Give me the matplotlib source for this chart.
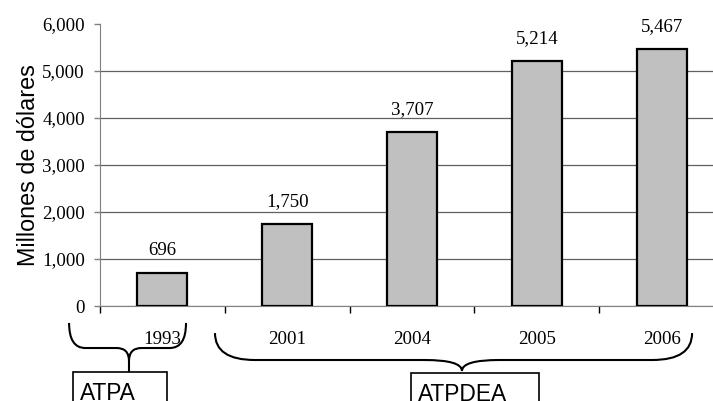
import numpy as np
import matplotlib.pyplot as plt
from matplotlib.path import Path
from matplotlib.patches import PathPatch, Rectangle

years = ['1993', '2001', '2004', '2005', '2006']
valores = [696, 1750, 3707, 5214, 5467]
y_ticks = [0, 1000, 2000, 3000, 4000, 5000, 6000]
programas = ['ATPA', 'ATPDEA']

serif = 'Liberation Serif'
sans = 'Liberation Sans'

fig = plt.figure(figsize=(7.13, 4.01), dpi=100)
ax = fig.add_axes([0.1403, 0.2369, 0.8752, 0.7032])

x = np.arange(len(years))
bars = ax.bar(x, valores, width=0.4, color='#c0c0c0', edgecolor='black',
              linewidth=1.6, zorder=3)
ax.bar_label(bars, labels=[f'{v:,}' for v in valores], padding=10,
             fontsize=13.6, family=serif)

ax.set_xlim(-0.5, len(years) - 0.5)
ax.set_ylim(0, 6000)
ax.set_yticks(y_ticks)
ax.set_yticklabels([f'{v:,}' for v in y_ticks], fontsize=13.6, family=serif)
ax.set_xticks(x)
ax.set_xticklabels(years, fontsize=13.6, family=serif)
ax.set_xticks(np.arange(-0.5, len(years)), minor=True)
ax.tick_params(axis='x', which='major', length=0, pad=18)
ax.tick_params(axis='x', which='minor', length=5, color='black', width=1)
ax.tick_params(axis='y', length=4, color='#808080', width=1, pad=7)

ax.grid(axis='y', color='#606060', linewidth=0.9, zorder=0)
ax.get_ygridlines()[-1].set_visible(False)
ax.set_axisbelow(True)

for side in ['top', 'right']:
    ax.spines[side].set_visible(False)
for side in ['left', 'bottom']:
    ax.spines[side].set_color('#808080')

ax.set_ylabel('Millones de dólares', fontsize=16.8, family=sans)
ax.yaxis.set_label_coords(-0.097, 0.5)

# llaves bajo los años de cada programa (x en datos, y en fracción del eje)
trans = ax.get_xaxis_transform()


def llave(x0, x1, xc, y_fin, y_plano, y_punta, r_fin, r_punta, y_tallo=None):
    verts = [(x0, y_fin), (x0, y_plano), (x0 + r_fin, y_plano),
             (xc - r_punta, y_plano), (xc, y_plano), (xc, y_punta),
             (xc, y_plano), (xc + r_punta, y_plano),
             (x1 - r_fin, y_plano), (x1, y_plano), (x1, y_fin)]
    codes = [Path.MOVETO, Path.CURVE3, Path.CURVE3, Path.LINETO,
             Path.CURVE3, Path.CURVE3, Path.CURVE3, Path.CURVE3,
             Path.LINETO, Path.CURVE3, Path.CURVE3]
    if y_tallo is not None:
        verts += [(xc, y_punta), (xc, y_tallo)]
        codes += [Path.MOVETO, Path.LINETO]
    ax.add_patch(PathPatch(Path(verts, codes), fill=False, edgecolor='black',
                           linewidth=1.5, transform=trans, clip_on=False))


llave(-0.748, 0.189, -0.268, -0.060, -0.149, -0.195, 0.13, 0.10, y_tallo=-0.234)
llave(0.421, 4.244, 2.40, -0.096, -0.1915, -0.2305, 0.32, 0.30)

# recuadros con el nombre de cada programa
cajas = [(-0.716, 0.037, -0.234), (1.992, 3.018, -0.2376)]
for nombre, (xa, xb, y_top) in zip(programas, cajas):
    ax.add_patch(Rectangle((xa, y_top - 0.3), xb - xa, 0.3, fill=False,
                           edgecolor='black', linewidth=1.2,
                           transform=trans, clip_on=False))
    ax.text(xa + 0.055, y_top - 0.034, nombre, transform=trans, ha='left',
            va='top', fontsize=16.4, family=sans, clip_on=False)

fig.savefig('out.png', dpi=100)
